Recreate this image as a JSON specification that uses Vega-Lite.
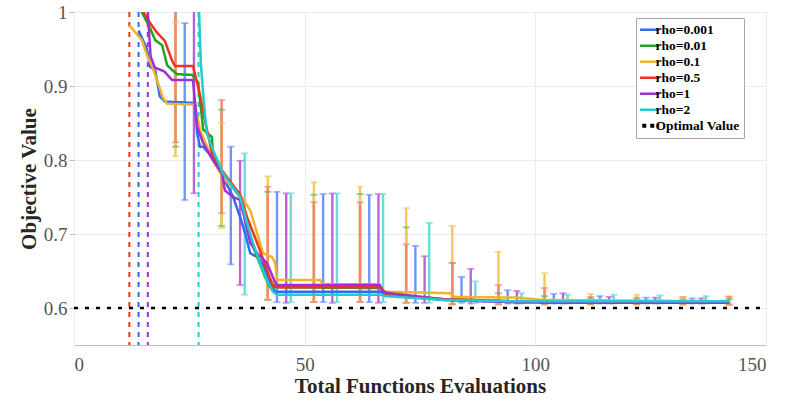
{
 "$schema": "https://vega.github.io/schema/vega-lite/v6.json",
 "width": 692, "height": 333,
 "autosize": {"type": "none"},
 "padding": {"left": 74, "top": 12, "right": 22, "bottom": 66},
 "config": {
  "view": {"stroke": "#bdbdbd", "strokeWidth": 1},
  "font": "Liberation Serif",
  "axis": {
   "labelFont": "Liberation Serif", "labelFontSize": 19, "labelColor": "#555555",
   "titleFont": "Liberation Serif", "titleFontSize": 21, "titleFontWeight": "bold", "titleColor": "#262626",
   "gridColor": "#ebebeb", "domain": false, "tickColor": "#bdbdbd"
  },
  "legend": {
   "orient": "none", "legendX": 562, "legendY": 6, "symbolType": "stroke", "symbolSize": 625,
   "clipHeight": 15.3, "rowPadding": 0, "labelFont": "Liberation Serif", "labelFontWeight": "bold",
   "labelFontSize": 13.5, "labelColor": "#000000", "labelOffset": 2, "padding": 4,
   "fillColor": "#ffffff", "strokeColor": "#a8a8a8"
  }
 },
 "resolve": {"scale": {"color": "independent"}, "legend": {"color": "independent"}},
 "datasets": {
  "means": [
   {"series":"rho=0.001","x":14,"y":0.975},{"series":"rho=0.001","x":15.8,"y":0.95},{"series":"rho=0.001","x":16.5,"y":0.926},{"series":"rho=0.001","x":17.6,"y":0.921},{"series":"rho=0.001","x":18.6,"y":0.886},{"series":"rho=0.001","x":19.7,"y":0.879},{"series":"rho=0.001","x":26.2,"y":0.877},{"series":"rho=0.001","x":26.7,"y":0.836},{"series":"rho=0.001","x":27.3,"y":0.818},{"series":"rho=0.001","x":28.0,"y":0.818},{"series":"rho=0.001","x":29.5,"y":0.807},{"series":"rho=0.001","x":31.0,"y":0.791},{"series":"rho=0.001","x":32.3,"y":0.777},{"series":"rho=0.001","x":34.5,"y":0.75},{"series":"rho=0.001","x":36.0,"y":0.723},{"series":"rho=0.001","x":37.1,"y":0.701},{"series":"rho=0.001","x":38.2,"y":0.674},{"series":"rho=0.001","x":39.7,"y":0.669},{"series":"rho=0.001","x":40.8,"y":0.661},{"series":"rho=0.001","x":42.5,"y":0.634},{"series":"rho=0.001","x":43.6,"y":0.622},{"series":"rho=0.001","x":66.5,"y":0.622},{"series":"rho=0.001","x":67.5,"y":0.618},{"series":"rho=0.001","x":80,"y":0.611},{"series":"rho=0.001","x":95,"y":0.608},{"series":"rho=0.001","x":110,"y":0.607},{"series":"rho=0.001","x":142,"y":0.607},
   {"series":"rho=0.01","x":12,"y":1.02},{"series":"rho=0.01","x":14.7,"y":1.0},{"series":"rho=0.01","x":16.5,"y":0.978},{"series":"rho=0.01","x":17.6,"y":0.962},{"series":"rho=0.01","x":19.1,"y":0.955},{"series":"rho=0.01","x":20.2,"y":0.928},{"series":"rho=0.01","x":21.2,"y":0.922},{"series":"rho=0.01","x":22.3,"y":0.916},{"series":"rho=0.01","x":25.6,"y":0.915},{"series":"rho=0.01","x":26.9,"y":0.905},{"series":"rho=0.01","x":28.0,"y":0.841},{"series":"rho=0.01","x":29.9,"y":0.831},{"series":"rho=0.01","x":30.1,"y":0.809},{"series":"rho=0.01","x":32.3,"y":0.78},{"series":"rho=0.01","x":36.0,"y":0.75},{"series":"rho=0.01","x":37.7,"y":0.701},{"series":"rho=0.01","x":39.7,"y":0.669},{"series":"rho=0.01","x":41.4,"y":0.642},{"series":"rho=0.01","x":42.5,"y":0.628},{"series":"rho=0.01","x":66.5,"y":0.627},{"series":"rho=0.01","x":67.5,"y":0.619},{"series":"rho=0.01","x":80,"y":0.612},{"series":"rho=0.01","x":95,"y":0.609},{"series":"rho=0.01","x":110,"y":0.607},{"series":"rho=0.01","x":142,"y":0.607},
   {"series":"rho=0.1","x":12,"y":0.982},{"series":"rho=0.1","x":14.7,"y":0.962},{"series":"rho=0.1","x":15.8,"y":0.942},{"series":"rho=0.1","x":16.9,"y":0.927},{"series":"rho=0.1","x":18,"y":0.908},{"series":"rho=0.1","x":19.3,"y":0.884},{"series":"rho=0.1","x":20.2,"y":0.876},{"series":"rho=0.1","x":26.2,"y":0.875},{"series":"rho=0.1","x":27.3,"y":0.841},{"series":"rho=0.1","x":30.1,"y":0.8},{"series":"rho=0.1","x":32.3,"y":0.776},{"series":"rho=0.1","x":36.0,"y":0.753},{"series":"rho=0.1","x":38.2,"y":0.732},{"series":"rho=0.1","x":39.7,"y":0.701},{"series":"rho=0.1","x":41.0,"y":0.674},{"series":"rho=0.1","x":42.9,"y":0.669},{"series":"rho=0.1","x":43.6,"y":0.661},{"series":"rho=0.1","x":44.0,"y":0.638},{"series":"rho=0.1","x":53.3,"y":0.638},{"series":"rho=0.1","x":54.0,"y":0.632},{"series":"rho=0.1","x":66.0,"y":0.632},{"series":"rho=0.1","x":67.0,"y":0.622},{"series":"rho=0.1","x":81.5,"y":0.62},{"series":"rho=0.1","x":82.5,"y":0.615},{"series":"rho=0.1","x":96,"y":0.614},{"series":"rho=0.1","x":101.7,"y":0.611},{"series":"rho=0.1","x":142,"y":0.609},
   {"series":"rho=0.5","x":12,"y":1.02},{"series":"rho=0.5","x":14,"y":1.01},{"series":"rho=0.5","x":16.5,"y":0.985},{"series":"rho=0.5","x":18,"y":0.972},{"series":"rho=0.5","x":19.7,"y":0.961},{"series":"rho=0.5","x":21.2,"y":0.935},{"series":"rho=0.5","x":21.9,"y":0.927},{"series":"rho=0.5","x":25.8,"y":0.927},{"series":"rho=0.5","x":27.3,"y":0.888},{"series":"rho=0.5","x":28.5,"y":0.85},{"series":"rho=0.5","x":30.1,"y":0.804},{"series":"rho=0.5","x":32.3,"y":0.784},{"series":"rho=0.5","x":36,"y":0.753},{"series":"rho=0.5","x":37.5,"y":0.723},{"series":"rho=0.5","x":39.2,"y":0.696},{"series":"rho=0.5","x":40.3,"y":0.678},{"series":"rho=0.5","x":41.8,"y":0.651},{"series":"rho=0.5","x":43.1,"y":0.631},{"series":"rho=0.5","x":44,"y":0.628},{"series":"rho=0.5","x":66.5,"y":0.628},{"series":"rho=0.5","x":67.5,"y":0.62},{"series":"rho=0.5","x":80,"y":0.612},{"series":"rho=0.5","x":95,"y":0.609},{"series":"rho=0.5","x":110,"y":0.607},{"series":"rho=0.5","x":142,"y":0.607},
   {"series":"rho=1","x":16,"y":1.0},{"series":"rho=1","x":16.6,"y":0.94},{"series":"rho=1","x":17.5,"y":0.925},{"series":"rho=1","x":19.5,"y":0.92},{"series":"rho=1","x":21.3,"y":0.908},{"series":"rho=1","x":25.8,"y":0.908},{"series":"rho=1","x":26.7,"y":0.845},{"series":"rho=1","x":28,"y":0.823},{"series":"rho=1","x":30.1,"y":0.8},{"series":"rho=1","x":32.1,"y":0.782},{"series":"rho=1","x":32.7,"y":0.759},{"series":"rho=1","x":34.5,"y":0.75},{"series":"rho=1","x":36,"y":0.746},{"series":"rho=1","x":37.1,"y":0.719},{"series":"rho=1","x":38.2,"y":0.688},{"series":"rho=1","x":39.7,"y":0.674},{"series":"rho=1","x":41.8,"y":0.661},{"series":"rho=1","x":43.1,"y":0.642},{"series":"rho=1","x":43.8,"y":0.631},{"series":"rho=1","x":66.3,"y":0.631},{"series":"rho=1","x":66.8,"y":0.622},{"series":"rho=1","x":68.5,"y":0.62},{"series":"rho=1","x":80,"y":0.611},{"series":"rho=1","x":95,"y":0.608},{"series":"rho=1","x":110,"y":0.607},{"series":"rho=1","x":142,"y":0.607},
   {"series":"rho=2","x":27,"y":1.02},{"series":"rho=2","x":27.5,"y":0.93},{"series":"rho=2","x":28.1,"y":0.881},{"series":"rho=2","x":28.8,"y":0.836},{"series":"rho=2","x":30.1,"y":0.814},{"series":"rho=2","x":32.3,"y":0.782},{"series":"rho=2","x":36,"y":0.75},{"series":"rho=2","x":37.5,"y":0.715},{"series":"rho=2","x":38.8,"y":0.688},{"series":"rho=2","x":40.3,"y":0.661},{"series":"rho=2","x":41.8,"y":0.638},{"series":"rho=2","x":43.1,"y":0.622},{"series":"rho=2","x":44,"y":0.618},{"series":"rho=2","x":66.5,"y":0.618},{"series":"rho=2","x":67.5,"y":0.616},{"series":"rho=2","x":80,"y":0.611},{"series":"rho=2","x":95,"y":0.609},{"series":"rho=2","x":110,"y":0.609},{"series":"rho=2","x":142,"y":0.609},
   {"series":"Optimal Value","x":0,"y":0.6},{"series":"Optimal Value","x":149,"y":0.6}
  ],
  "errs": [
   {"series":"rho=0.01","x":22,"lo":0.818,"hi":1.02},{"series":"rho=0.01","x":32,"lo":0.711,"hi":0.868},{"series":"rho=0.01","x":42,"lo":0.611,"hi":0.757},{"series":"rho=0.01","x":52,"lo":0.608,"hi":0.753},{"series":"rho=0.01","x":62,"lo":0.608,"hi":0.754},{"series":"rho=0.01","x":72,"lo":0.607,"hi":0.709},{"series":"rho=0.01","x":82,"lo":0.605,"hi":0.661},{"series":"rho=0.01","x":92,"lo":0.605,"hi":0.62},{"series":"rho=0.01","x":102,"lo":0.605,"hi":0.616},{"series":"rho=0.01","x":112,"lo":0.605,"hi":0.613},{"series":"rho=0.01","x":122,"lo":0.605,"hi":0.612},{"series":"rho=0.01","x":132,"lo":0.605,"hi":0.612},{"series":"rho=0.01","x":142,"lo":0.605,"hi":0.612},
   {"series":"rho=0.1","x":22,"lo":0.805,"hi":0.986},{"series":"rho=0.1","x":32,"lo":0.708,"hi":0.85},{"series":"rho=0.1","x":42,"lo":0.612,"hi":0.778},{"series":"rho=0.1","x":52,"lo":0.608,"hi":0.77},{"series":"rho=0.1","x":62,"lo":0.608,"hi":0.764},{"series":"rho=0.1","x":72,"lo":0.607,"hi":0.735},{"series":"rho=0.1","x":82,"lo":0.605,"hi":0.711},{"series":"rho=0.1","x":92,"lo":0.605,"hi":0.676},{"series":"rho=0.1","x":102,"lo":0.605,"hi":0.647},{"series":"rho=0.1","x":112,"lo":0.605,"hi":0.619},{"series":"rho=0.1","x":122,"lo":0.605,"hi":0.618},{"series":"rho=0.1","x":132,"lo":0.605,"hi":0.613},{"series":"rho=0.1","x":142,"lo":0.605,"hi":0.616},
   {"series":"rho=0.5","x":22,"lo":0.824,"hi":1.02},{"series":"rho=0.5","x":32,"lo":0.728,"hi":0.881},{"series":"rho=0.5","x":42,"lo":0.611,"hi":0.764},{"series":"rho=0.5","x":52,"lo":0.608,"hi":0.743},{"series":"rho=0.5","x":62,"lo":0.608,"hi":0.743},{"series":"rho=0.5","x":72,"lo":0.607,"hi":0.686},{"series":"rho=0.5","x":82,"lo":0.605,"hi":0.661},{"series":"rho=0.5","x":92,"lo":0.605,"hi":0.631},{"series":"rho=0.5","x":102,"lo":0.605,"hi":0.627},{"series":"rho=0.5","x":112,"lo":0.605,"hi":0.615},{"series":"rho=0.5","x":122,"lo":0.605,"hi":0.614},{"series":"rho=0.5","x":132,"lo":0.605,"hi":0.615},{"series":"rho=0.5","x":142,"lo":0.604,"hi":0.615},
   {"series":"rho=0.001","x":24,"lo":0.746,"hi":0.985},{"series":"rho=0.001","x":34,"lo":0.659,"hi":0.818},{"series":"rho=0.001","x":44,"lo":0.608,"hi":0.757},{"series":"rho=0.001","x":54,"lo":0.608,"hi":0.754},{"series":"rho=0.001","x":64,"lo":0.608,"hi":0.753},{"series":"rho=0.001","x":74,"lo":0.607,"hi":0.684},{"series":"rho=0.001","x":84,"lo":0.607,"hi":0.642},{"series":"rho=0.001","x":94,"lo":0.606,"hi":0.624},{"series":"rho=0.001","x":104,"lo":0.606,"hi":0.619},{"series":"rho=0.001","x":114,"lo":0.606,"hi":0.616},{"series":"rho=0.001","x":124,"lo":0.606,"hi":0.614},{"series":"rho=0.001","x":134,"lo":0.606,"hi":0.613},
   {"series":"rho=1","x":26,"lo":0.755,"hi":1.02},{"series":"rho=1","x":36,"lo":0.631,"hi":0.799},{"series":"rho=1","x":46,"lo":0.607,"hi":0.755},{"series":"rho=1","x":56,"lo":0.607,"hi":0.755},{"series":"rho=1","x":66,"lo":0.607,"hi":0.754},{"series":"rho=1","x":76,"lo":0.607,"hi":0.67},{"series":"rho=1","x":86,"lo":0.606,"hi":0.653},{"series":"rho=1","x":96,"lo":0.606,"hi":0.623},{"series":"rho=1","x":106,"lo":0.606,"hi":0.62},{"series":"rho=1","x":116,"lo":0.606,"hi":0.615},{"series":"rho=1","x":126,"lo":0.606,"hi":0.614},{"series":"rho=1","x":136,"lo":0.606,"hi":0.613},
   {"series":"rho=2","x":37,"lo":0.618,"hi":0.809},{"series":"rho=2","x":47,"lo":0.608,"hi":0.755},{"series":"rho=2","x":57,"lo":0.608,"hi":0.755},{"series":"rho=2","x":67,"lo":0.608,"hi":0.754},{"series":"rho=2","x":77,"lo":0.607,"hi":0.715},{"series":"rho=2","x":87,"lo":0.607,"hi":0.636},{"series":"rho=2","x":97,"lo":0.606,"hi":0.62},{"series":"rho=2","x":107,"lo":0.606,"hi":0.618},{"series":"rho=2","x":117,"lo":0.606,"hi":0.618},{"series":"rho=2","x":127,"lo":0.606,"hi":0.617},{"series":"rho=2","x":137,"lo":0.606,"hi":0.616}
  ],
  "starts": [
   {"series":"rho=0.5","x":12},{"series":"rho=0.001","x":14},{"series":"rho=1","x":16},{"series":"rho=2","x":27}
  ]
 },
 "layer": [
  {
   "data": {"name": "errs"},
   "mark": {"type": "rule", "strokeWidth": 2.4, "clip": true},
   "encoding": {
    "x": {"field": "x", "type": "quantitative", "scale": {"domain": [0, 150], "nice": false},
          "axis": {"values": [0, 50, 100, 150], "title": "Total Functions Evaluations", "ticks": false, "labelPadding": 10, "titlePadding": 1, "grid": true}},
    "y": {"field": "lo", "type": "quantitative", "scale": {"domain": [0.55, 1], "nice": false, "zero": false},
          "axis": {"values": [0.6, 0.7, 0.8, 0.9, 1], "title": "Objective Value", "tickSize": 5, "labelPadding": 2, "titlePadding": 4,
                   "labelExpr": "datum.value == 1 ? '1' : format(datum.value, '.1f')", "grid": true}},
    "y2": {"field": "hi"},
    "color": {"field": "series", "type": "nominal", "legend": null,
              "scale": {"domain": ["rho=0.001","rho=0.01","rho=0.1","rho=0.5","rho=1","rho=2"],
                        "range": ["#6f95f7","#5cb85c","#f2c960","#f7866e","#b865d8","#6ddada"]}}
   }
  },
  {
   "data": {"name": "errs"},
   "mark": {"type": "tick", "orient": "horizontal", "size": 7, "thickness": 1.8, "clip": true},
   "encoding": {
    "x": {"field": "x", "type": "quantitative"},
    "y": {"field": "lo", "type": "quantitative"},
    "color": {"field": "series", "type": "nominal", "legend": null,
              "scale": {"domain": ["rho=0.001","rho=0.01","rho=0.1","rho=0.5","rho=1","rho=2"],
                        "range": ["#6f95f7","#5cb85c","#f2c960","#f7866e","#b865d8","#6ddada"]}}
   }
  },
  {
   "data": {"name": "errs"},
   "mark": {"type": "tick", "orient": "horizontal", "size": 7, "thickness": 1.8, "clip": true},
   "encoding": {
    "x": {"field": "x", "type": "quantitative"},
    "y": {"field": "hi", "type": "quantitative"},
    "color": {"field": "series", "type": "nominal", "legend": null,
              "scale": {"domain": ["rho=0.001","rho=0.01","rho=0.1","rho=0.5","rho=1","rho=2"],
                        "range": ["#6f95f7","#5cb85c","#f2c960","#f7866e","#b865d8","#6ddada"]}}
   }
  },
  {
   "data": {"name": "starts"},
   "mark": {"type": "rule", "strokeWidth": 2, "strokeDash": [5, 5]},
   "encoding": {
    "x": {"field": "x", "type": "quantitative"},
    "color": {"field": "series", "type": "nominal", "legend": null,
              "scale": {"domain": ["rho=0.001","rho=0.01","rho=0.1","rho=0.5","rho=1","rho=2"],
                        "range": ["#2f6cf5","#1ea51e","#f0b428","#f5321e","#a02fd4","#22cccc"]}}
   }
  },
  {
   "data": {"name": "means"},
   "mark": {"type": "line", "clip": true},
   "encoding": {
    "x": {"field": "x", "type": "quantitative"},
    "y": {"field": "y", "type": "quantitative"},
    "color": {"field": "series", "type": "nominal", "title": null,
              "scale": {"domain": ["rho=0.001","rho=0.01","rho=0.1","rho=0.5","rho=1","rho=2","Optimal Value"],
                        "range": ["#2f6cf5","#1ea51e","#f0b428","#f5321e","#a02fd4","#22cccc","#000000"]},
              "legend": {"encode": {"symbols": {"update": {
                 "strokeDash": {"signal": "datum.value === 'Optimal Value' ? [4, 4] : [1, 0]"},
                 "strokeWidth": {"signal": "datum.value === 'Optimal Value' ? 4 : 2.5"}}}}}},
    "strokeDash": {"field": "series", "type": "nominal", "legend": null,
              "scale": {"domain": ["rho=0.001","rho=0.01","rho=0.1","rho=0.5","rho=1","rho=2","Optimal Value"],
                        "range": [[1,0],[1,0],[1,0],[1,0],[1,0],[1,0],[4,7]]}},
    "strokeWidth": {"field": "series", "type": "ordinal", "legend": null,
              "scale": {"domain": ["rho=0.001","rho=0.01","rho=0.1","rho=0.5","rho=1","rho=2","Optimal Value"],
                        "range": [2.5,2.5,2.5,2.5,2.5,2.5,4.5]}}
   }
  }
 ]
}
